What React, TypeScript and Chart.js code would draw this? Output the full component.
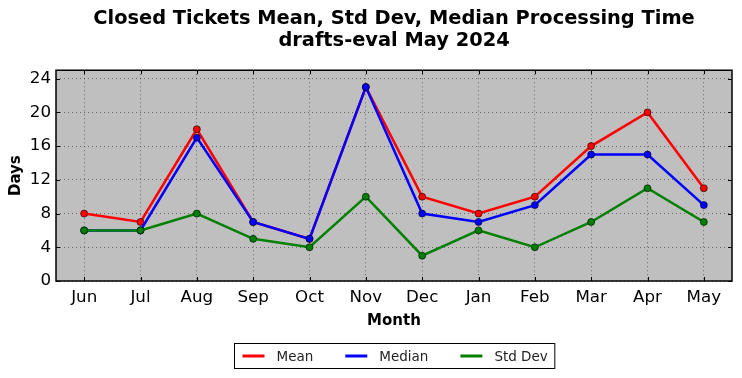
import React, { useEffect, useRef } from "react";
import { Chart, registerables } from "chart.js";

Chart.register(...registerables);

const titleLines = ["Closed Tickets Mean, Std Dev, Median Processing Time", "drafts-eval May 2024"];
const months = ["Jun", "Jul", "Aug", "Sep", "Oct", "Nov", "Dec", "Jan", "Feb", "Mar", "Apr", "May"];
const meanDays = [8, 7, 18, 7, 5, 23, 10, 8, 10, 16, 20, 11];
const medianDays = [6, 6, 17, 7, 5, 23, 8, 7, 9, 15, 15, 9];
const stdDevDays = [6, 6, 8, 5, 4, 10, 3, 6, 4, 7, 11, 7];
const yTicks = [0, 4, 8, 12, 16, 20, 24];
const yMax = 25;

const FONT = "'DejaVu Sans', sans-serif";

const decorPlugin = {
  id: "decor",
  beforeDraw(chart: any) {
    const { ctx, chartArea: a } = chart;
    ctx.save();
    ctx.fillStyle = "#bfbfbf";
    ctx.fillRect(a.left, a.top, a.right - a.left, a.bottom - a.top);
    ctx.restore();
  },
  afterDraw(chart: any) {
    const { ctx, chartArea: a } = chart;
    ctx.save();
    ctx.setLineDash([]);
    ctx.strokeStyle = "#000";
    ctx.lineWidth = 1;
    const xs = chart.scales.x;
    const ys = chart.scales.y;
    const tl = 4;
    ctx.beginPath();
    xs.ticks.forEach((_t: any, i: number) => {
      const px = Math.round(xs.getPixelForTick(i)) + 0.5;
      ctx.moveTo(px, a.bottom);
      ctx.lineTo(px, a.bottom - tl);
      ctx.moveTo(px, a.top);
      ctx.lineTo(px, a.top + tl);
    });
    ys.ticks.forEach((_t: any, i: number) => {
      const py = Math.round(ys.getPixelForTick(i)) + 0.5;
      ctx.moveTo(a.left, py);
      ctx.lineTo(a.left + tl, py);
      ctx.moveTo(a.right, py);
      ctx.lineTo(a.right - tl, py);
    });
    ctx.stroke();
    ctx.lineWidth = 1.5;
    ctx.strokeRect(a.left, a.top, a.right - a.left, a.bottom - a.top);

    // legend
    const ds = chart.data.datasets;
    ctx.font = `13.5px ${FONT}`;
    const lineLen = 22;
    const gapText = 12;
    const gapItem = 32;
    const padL = 8;
    const padR = 7;
    const widths = ds.map((d: any) => ctx.measureText(d.label).width);
    let total = padL + padR;
    widths.forEach((w: number, i: number) => {
      total += lineLen + gapText + w + (i < widths.length - 1 ? gapItem : 0);
    });
    const cx = (a.left + a.right) / 2;
    const boxLeft = Math.round(cx - total / 2) + 0.5;
    const boxTop = 343.5;
    const boxH = 25;
    ctx.fillStyle = "#fff";
    ctx.fillRect(boxLeft, boxTop, total, boxH);
    ctx.strokeStyle = "#000";
    ctx.lineWidth = 1;
    ctx.strokeRect(boxLeft, boxTop, total, boxH);
    const cy = boxTop + boxH / 2;
    let x = boxLeft + padL;
    ctx.textBaseline = "middle";
    ctx.textAlign = "left";
    ds.forEach((d: any, i: number) => {
      ctx.strokeStyle = d.borderColor;
      ctx.lineWidth = 3;
      ctx.beginPath();
      ctx.moveTo(x, cy);
      ctx.lineTo(x + lineLen, cy);
      ctx.stroke();
      x += lineLen + gapText;
      ctx.fillStyle = "#222";
      ctx.fillText(d.label, x, cy + 1);
      x += widths[i] + gapItem;
    });
    ctx.restore();
  },
};

export default function App() {
  const ref = useRef<HTMLCanvasElement | null>(null);
  useEffect(() => {
    document.body.style.margin = "0";
    const canvas = ref.current;
    if (!canvas) return;
    const mk = (label: string, data: number[], color: string, order: number) => ({
      label,
      data,
      borderColor: color,
      backgroundColor: color,
      pointBackgroundColor: color,
      pointBorderColor: "#000",
      pointBorderWidth: 0.6,
      pointRadius: 3.5,
      borderWidth: 2.5,
      tension: 0,
      order,
      fill: false,
    });
    const chart = new Chart(canvas, {
      type: "line",
      data: {
        labels: months,
        datasets: [
          mk("Mean", meanDays, "#ff0000", 3),
          mk("Median", medianDays, "#0000ff", 2),
          mk("Std Dev", stdDevDays, "#008000", 1),
        ],
      },
      options: {
        responsive: false,
        animation: false,
        devicePixelRatio: 1,
        layout: { padding: { top: 0, left: 0, right: 10, bottom: 47 } },
        plugins: {
          legend: { display: false },
          tooltip: { enabled: false },
          title: {
            display: true,
            text: titleLines,
            fullSize: false,
            color: "#000",
            font: { family: FONT, size: 19.4, weight: "bold", lineHeight: 1.14 },
            padding: { top: 8, bottom: 18 },
          },
        },
        scales: {
          x: {
            offset: true,
            afterFit: (s: any) => {
              s.height = 50;
            },
            grid: {
              display: true,
              color: "rgba(0,0,0,0.45)",
              lineWidth: 1,
              drawTicks: false,
              offset: false,
            },
            border: { display: false, dash: [1, 3] },
            ticks: { color: "#000", padding: 7, font: { family: FONT, size: 16.7 }, maxRotation: 0 },
            title: {
              display: true,
              text: "Month",
              color: "#000",
              font: { family: FONT, size: 15, weight: "bold" },
              padding: { top: 4, bottom: 1 },
            },
          },
          y: {
            min: 0,
            max: yMax,
            afterFit: (s: any) => {
              s.width = 56;
            },
            afterBuildTicks: (s: any) => {
              s.ticks = yTicks.map((v) => ({ value: v }));
            },
            grid: {
              display: true,
              color: "rgba(0,0,0,0.45)",
              lineWidth: 1,
              drawTicks: false,
            },
            border: { display: false, dash: [1, 3] },
            ticks: { color: "#000", padding: 5, font: { family: FONT, size: 16.7 } },
            title: {
              display: true,
              text: "Days",
              color: "#000",
              font: { family: FONT, size: 15, weight: "bold" },
              padding: { top: 7, bottom: 4 },
            },
          },
        },
      },
      plugins: [decorPlugin],
    } as any);
    return () => chart.destroy();
  }, []);
  return (
    <div style={{ width: 742, height: 378 }}>
      <canvas ref={ref} width={742} height={378} style={{ display: "block" }} />
    </div>
  );
}
